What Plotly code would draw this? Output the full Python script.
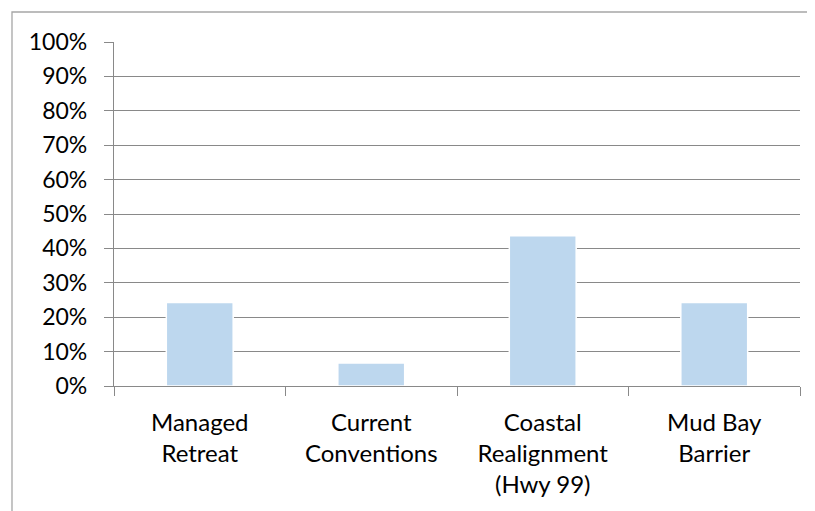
import plotly.graph_objects as go

categories = ["Managed<br>Retreat", "Current<br>Conventions", "Coastal<br>Realignment<br>(Hwy 99)", "Mud Bay<br>Barrier"]
values = [24.3, 6.7, 43.7, 24.3]
y_ticks = [0, 10, 20, 30, 40, 50, 60, 70, 80, 90, 100]

FONT = "Lato"
GRID = "#898989"

fig = go.Figure(
    go.Bar(
        x=categories,
        y=values,
        marker=dict(color="#BDD7EE", line=dict(color="#FFFFFF", width=1.5)),
        width=0.39,
    )
)

fig.update_layout(
    width=815,
    height=511,
    margin=dict(l=106, r=23, t=34, b=133),
    paper_bgcolor="white",
    plot_bgcolor="white",
    font=dict(family=FONT, size=23, color="#000000"),
    showlegend=False,
    bargap=0.61,
    shapes=[
        dict(type="rect", xref="paper", yref="paper",
             x0=-0.1487, x1=1.1, y0=-0.6, y1=1.0872,
             line=dict(color="#A6A6A6", width=1.3), fillcolor="rgba(0,0,0,0)", layer="below"),
    ],
)

fig.update_yaxes(
    range=[0, 100],
    tickvals=y_ticks,
    ticktext=[f"{v}%" for v in y_ticks],
    showgrid=True,
    gridcolor=GRID,
    gridwidth=1.3,
    showline=True,
    linecolor=GRID,
    linewidth=1.3,
    ticks="outside",
    ticklen=9,
    tickcolor=GRID,
    tickwidth=1.3,
    ticklabelstandoff=12,
    zeroline=False,
    tickfont=dict(family=FONT, size=23),
)

fig.update_xaxes(
    showline=True,
    linecolor=GRID,
    linewidth=1.3,
    ticks="outside",
    tickson="boundaries",
    ticklen=9,
    tickcolor=GRID,
    tickwidth=1.3,
    showgrid=False,
    tickfont=dict(family=FONT, size=24),
    ticklabelstandoff=15,
)

fig.write_html("out.html")
